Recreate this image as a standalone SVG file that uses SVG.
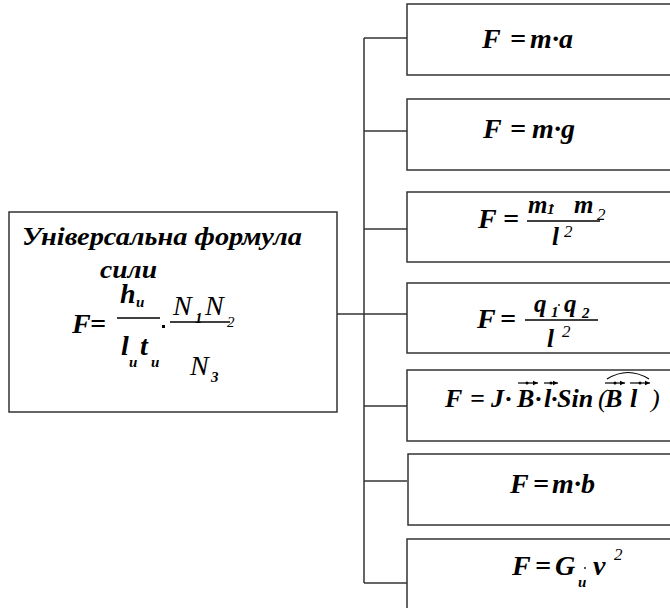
<svg xmlns="http://www.w3.org/2000/svg" width="670" height="608" viewBox="0 0 670 608">
<defs>
<marker id="ah" markerWidth="6" markerHeight="6" refX="5" refY="3" orient="auto" markerUnits="userSpaceOnUse">
<path d="M0,0.8 L5,3 L0,5.2 Z" fill="#000"/>
</marker>
</defs>
<rect width="670" height="608" fill="#fff"/>
<g id="connectors" stroke="#333" stroke-width="1.5" fill="none">
<line x1="337" y1="314" x2="407" y2="314"/>
<line x1="364" y1="38" x2="364" y2="583"/>
<line x1="364" y1="38" x2="407" y2="38"/>
<line x1="364" y1="131" x2="407" y2="131"/>
<line x1="364" y1="229" x2="407" y2="229"/>
<line x1="364" y1="406" x2="407" y2="406"/>
<line x1="364" y1="481" x2="407" y2="481"/>
<line x1="364" y1="583" x2="407" y2="583"/>
</g>
<g id="main">
<rect x="9" y="212" width="328" height="200" fill="#fff" stroke="#333" stroke-width="1.5"/>
<text font-family="Liberation Serif, Times New Roman, serif" font-weight="bold" font-style="italic" font-size="25" x="22" y="245" textLength="280" lengthAdjust="spacingAndGlyphs">Універсальна формула</text>
<text font-family="Liberation Serif, Times New Roman, serif" font-weight="bold" font-style="italic" font-size="25" x="100" y="278" textLength="57" lengthAdjust="spacingAndGlyphs">сили</text>
<text font-family="Liberation Serif, Times New Roman, serif" font-weight="bold" font-style="italic" font-size="28" y="333"><tspan x="72">F</tspan><tspan x="90">=</tspan></text>
<text font-family="Liberation Serif, Times New Roman, serif" font-weight="bold" font-style="italic" font-size="28" x="120" y="303">h</text>
<text font-family="Liberation Serif, Times New Roman, serif" font-weight="bold" font-style="italic" font-size="15" x="136" y="307">u</text>
<line x1="117" y1="318" x2="160" y2="318" stroke="#000" stroke-width="1.3"/>
<text font-family="Liberation Serif, Times New Roman, serif" font-weight="bold" font-style="italic" font-size="28" x="121" y="355">l</text>
<text font-family="Liberation Serif, Times New Roman, serif" font-weight="bold" font-style="italic" font-size="15" x="129" y="367">u</text>
<text font-family="Liberation Serif, Times New Roman, serif" font-weight="bold" font-style="italic" font-size="28" x="140" y="355">t</text>
<text font-family="Liberation Serif, Times New Roman, serif" font-weight="bold" font-style="italic" font-size="15" x="151" y="367">u</text>
<rect x="162" y="325" width="3" height="3" fill="#000"/>
<line x1="170" y1="322" x2="230" y2="322" stroke="#000" stroke-width="1.3"/>
<text font-family="Liberation Serif, Times New Roman, serif" font-style="italic" font-size="28" x="173" y="315">N</text>
<text font-family="Liberation Serif, Times New Roman, serif" font-weight="bold" font-style="italic" font-size="15" x="195" y="323">1</text>
<text font-family="Liberation Serif, Times New Roman, serif" font-style="italic" font-size="28" x="205" y="315">N</text>
<text font-family="Liberation Serif, Times New Roman, serif" font-style="italic" font-size="15" x="227" y="327">2</text>
<text font-family="Liberation Serif, Times New Roman, serif" font-style="italic" font-size="28" x="190" y="375">N</text>
<text font-family="Liberation Serif, Times New Roman, serif" font-weight="bold" font-style="italic" font-size="15" x="211" y="382">3</text>
</g>
<g id="f1">
<rect x="407" y="4" width="300" height="71" fill="#fff" stroke="#333" stroke-width="1.5"/>
<text font-family="Liberation Serif, Times New Roman, serif" font-weight="bold" font-style="italic" font-size="28" y="48"><tspan x="482">F</tspan><tspan x="510">=</tspan><tspan x="530">m</tspan><tspan x="552">·</tspan><tspan x="559">a</tspan></text>
</g>
<g id="f2">
<rect x="407" y="99" width="300" height="71" fill="#fff" stroke="#333" stroke-width="1.5"/>
<text font-family="Liberation Serif, Times New Roman, serif" font-weight="bold" font-style="italic" font-size="28" y="138"><tspan x="483">F</tspan><tspan x="510">=</tspan><tspan x="532">m</tspan><tspan x="554">·</tspan><tspan x="561">g</tspan></text>
</g>
<g id="f3">
<rect x="407" y="192" width="300" height="70" fill="#fff" stroke="#333" stroke-width="1.5"/>
<text font-family="Liberation Serif, Times New Roman, serif" font-weight="bold" font-style="italic" font-size="28" y="228"><tspan x="478">F</tspan><tspan x="503">=</tspan></text>
<line x1="527" y1="221" x2="600" y2="221" stroke="#000" stroke-width="1.3"/>
<text font-family="Liberation Serif, Times New Roman, serif" font-weight="bold" font-style="italic" font-size="25" x="528" y="213">m</text>
<text font-family="Liberation Serif, Times New Roman, serif" font-weight="bold" font-style="italic" font-size="15" x="547" y="214">1</text>
<circle cx="553" cy="206" r="0.9" fill="#000"/>
<text font-family="Liberation Serif, Times New Roman, serif" font-weight="bold" font-style="italic" font-size="25" x="574" y="213">m</text>
<text font-family="Liberation Serif, Times New Roman, serif" font-style="italic" font-size="17" x="597" y="220">2</text>
<text font-family="Liberation Serif, Times New Roman, serif" font-weight="bold" font-style="italic" font-size="25" x="552" y="245">l</text>
<text font-family="Liberation Serif, Times New Roman, serif" font-style="italic" font-size="17" x="564" y="237">2</text>
</g>
<g id="f4">
<rect x="407" y="283" width="300" height="70" fill="#fff" stroke="#333" stroke-width="1.5"/>
<text font-family="Liberation Serif, Times New Roman, serif" font-weight="bold" font-style="italic" font-size="28" y="328"><tspan x="477">F</tspan><tspan x="500">=</tspan></text>
<line x1="525" y1="320" x2="598" y2="320" stroke="#000" stroke-width="1.3"/>
<text font-family="Liberation Serif, Times New Roman, serif" font-weight="bold" font-style="italic" font-size="25" x="534" y="312">q</text>
<text font-family="Liberation Serif, Times New Roman, serif" font-weight="bold" font-style="italic" font-size="15" x="551" y="317">1</text>
<circle cx="559" cy="305" r="0.9" fill="#000"/>
<text font-family="Liberation Serif, Times New Roman, serif" font-weight="bold" font-style="italic" font-size="25" x="564" y="312">q</text>
<text font-family="Liberation Serif, Times New Roman, serif" font-weight="bold" font-style="italic" font-size="15" x="582" y="318">2</text>
<text font-family="Liberation Serif, Times New Roman, serif" font-weight="bold" font-style="italic" font-size="25" x="547" y="347">l</text>
<text font-family="Liberation Serif, Times New Roman, serif" font-style="italic" font-size="17" x="562" y="337">2</text>
</g>
<g id="f5">
<rect x="407" y="370" width="300" height="71" fill="#fff" stroke="#333" stroke-width="1.5"/>
<text font-family="Liberation Serif, Times New Roman, serif" font-weight="bold" font-style="italic" font-size="26" y="407"><tspan x="445">F</tspan><tspan x="470">=</tspan><tspan x="491">J</tspan><tspan x="505">·</tspan><tspan x="517">B</tspan><tspan x="535">·</tspan><tspan x="544">l</tspan><tspan x="551">·</tspan><tspan x="557">Sin</tspan><tspan font-weight="normal" x="598">(</tspan><tspan x="605">B</tspan><tspan x="630">l</tspan><tspan font-weight="normal" x="651">)</tspan></text>
<g stroke="#000" stroke-width="1.2" fill="none">
<line x1="518" y1="383" x2="538" y2="383" marker-end="url(#ah)"/>
<line x1="544" y1="383" x2="558" y2="383" marker-end="url(#ah)"/>
<line x1="605" y1="383" x2="625" y2="383" marker-end="url(#ah)"/>
<line x1="630" y1="383" x2="650" y2="383" marker-end="url(#ah)"/>
<path d="M607,379 Q628,366 649,379"/>
</g>
<circle cx="527" cy="383" r="1.5" fill="#000"/>
<circle cx="551" cy="383" r="1.5" fill="#000"/>
<circle cx="615" cy="383" r="1.5" fill="#000"/>
<circle cx="640" cy="383" r="1.5" fill="#000"/>
</g>
<g id="f6">
<rect x="408" y="454" width="300" height="71" fill="#fff" stroke="#333" stroke-width="1.5"/>
<text font-family="Liberation Serif, Times New Roman, serif" font-weight="bold" font-style="italic" font-size="28" y="493"><tspan x="510">F</tspan><tspan x="533">=</tspan><tspan x="552">m</tspan><tspan x="574">·</tspan><tspan x="581">b</tspan></text>
</g>
<g id="f7">
<rect x="407" y="539" width="300" height="90" fill="#fff" stroke="#333" stroke-width="1.5"/>
<text font-family="Liberation Serif, Times New Roman, serif" font-weight="bold" font-style="italic" font-size="28" y="575"><tspan x="512">F</tspan><tspan x="535">=</tspan><tspan x="555">G</tspan><tspan x="593">v</tspan></text>
<text font-family="Liberation Serif, Times New Roman, serif" font-weight="bold" font-style="italic" font-size="15" x="578" y="587">u</text>
<circle cx="585" cy="568" r="0.9" fill="#000"/>
<text font-family="Liberation Serif, Times New Roman, serif" font-style="italic" font-size="17" x="614" y="560">2</text>
</g>
</svg>
